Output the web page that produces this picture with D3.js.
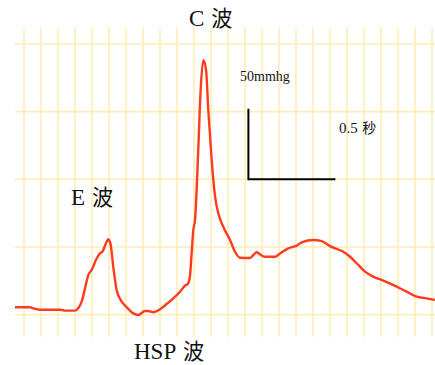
<!DOCTYPE html>
<html>
<head>
<meta charset="utf-8">
<script src="https://cdn.jsdelivr.net/npm/d3@7"></script>
<style>
  html, body { margin: 0; padding: 0; background: #fff; }
  svg { display: block; }
  .lbl { font-family: "Liberation Serif", "Times New Roman", serif; fill: #111; }
  .cjk { font-family: "Noto Sans CJK JP", sans-serif; }
</style>
</head>
<body>
<div id="chart"></div>
<script>
// pressure trace, time in seconds, pressure in mmHg
const timeValues = [
    -0.053, 0.035, 0.055, 0.094, 0.212, 0.241, 0.300, 0.319, 0.339, 0.359,
    0.378, 0.398, 0.428, 0.447, 0.461, 0.486, 0.496, 0.510, 0.525, 0.545,
    0.575, 0.604, 0.643, 0.672, 0.712, 0.731, 0.761, 0.800, 0.839, 0.878,
    0.918, 0.947, 0.966, 0.976, 0.986, 0.996, 1.006, 1.025, 1.039, 1.055,
    1.071, 1.084, 1.104, 1.124, 1.143, 1.172, 1.212, 1.241, 1.271, 1.329,
    1.349, 1.369, 1.388, 1.418, 1.476, 1.506, 1.555, 1.604, 1.634, 1.702,
    1.751, 1.800, 1.878, 1.918, 1.957, 2.006, 2.055, 2.114, 2.192, 2.251,
    2.310, 2.369, 2.418
];
const pressureValues = [
    5.5, 5.5, 4.7, 3.7, 3.7, 3.0, 3.0, 4.7, 9.6, 19.5,
    29.3, 33.0, 41.7, 45.3, 46.5, 53.9, 55.7, 51.5, 35.5, 18.2,
    9.6, 5.5, 1.0, -0.2, 2.7, 2.7, 1.8, 4.0, 7.9, 12.1,
    17.0, 21.4, 23.2, 28.1, 45.3, 62.6, 69.9, 121.6, 166.0, 188.1,
    180.7, 151.2, 114.3, 87.2, 74.9, 65.0, 55.2, 46.5, 42.1, 41.9,
    44.1, 46.1, 44.6, 42.8, 42.8, 45.3, 49.0, 51.0, 53.5, 55.2,
    54.4, 50.7, 46.5, 42.8, 38.0, 31.8, 28.1, 25.1, 20.7, 17.0,
    13.3, 12.1, 10.9
];

// grid (0.1 s by 50 mmHg)
const gridTimes = d3.range(0, 2.401, 0.1);
const gridPressures = [0, 50, 100, 150, 200];

// labels: latin part + kanji part
const waveLabels = [["C", "波"], ["E", "波"], ["HSP", "波"]];
const scaleLabels = [["50mmhg", ""], ["0.5", "秒"]];
const scaleBarPressure = 50;
const scaleBarTime = 0.5;

const width = 435;
const height = 365;

const x = d3.scaleLinear().domain([0, 2.4]).range([24, 432]);
const y = d3.scaleLinear().domain([0, 200]).range([314.7, 44]);

const svg = d3.select("#chart").append("svg")
    .attr("width", width)
    .attr("height", height);

// Grid
const grid = svg.append("g")
    .attr("stroke", "#ffecb0")
    .attr("stroke-width", 1.5);

grid.selectAll("line.v")
    .data(gridTimes)
    .join("line")
    .attr("class", "v")
    .attr("x1", d => x(d)).attr("x2", d => x(d))
    .attr("y1", y(212)).attr("y2", y(-16.2));

grid.selectAll("line.h")
    .data(gridPressures)
    .join("line")
    .attr("class", "h")
    .attr("x1", x(-0.053)).attr("x2", width)
    .attr("y1", d => y(d)).attr("y2", d => y(d));

// Trace
const points = timeValues.map((t, i) => [t, pressureValues[i]]);

const line = d3.line()
    .x(d => x(d[0]))
    .y(d => y(d[1]))
    .curve(d3.curveMonotoneX);

svg.append("path")
    .datum(points)
    .attr("fill", "none")
    .attr("stroke", "#ff3b1d")
    .attr("stroke-width", 2.4)
    .attr("stroke-linejoin", "round")
    .attr("d", line);

// Scale bar
const barT = 1.32, barP = 100;
svg.append("path")
    .attr("fill", "none")
    .attr("stroke", "#000")
    .attr("stroke-width", 2)
    .attr("d", `M ${x(barT)} ${y(barP + scaleBarPressure) - 3}
                L ${x(barT)} ${y(barP)}
                L ${x(barT + scaleBarTime) + 2} ${y(barP)}`);

function addLabel(parts, t, p, size) {
    const txt = svg.append("text")
        .attr("class", "lbl")
        .attr("x", x(t))
        .attr("y", y(p))
        .style("font-size", size + "px");
    txt.append("tspan").text(parts[0]);
    if (parts[1]) {
        txt.append("tspan").attr("class", "cjk")
            .attr("dx", size * 0.3)
            .style("font-size", (size * 0.92) + "px")
            .text(parts[1]);
    }
}

// Labels
addLabel(waveLabels[0], 0.971, 213.2, 23);
addLabel(waveLabels[1], 0.276, 81.0, 23);
addLabel(waveLabels[2], 0.647, -32.7, 23);
addLabel(scaleLabels[0], 1.271, 172.6, 14);
addLabel(scaleLabels[1], 1.853, 134.2, 15);
</script>
</body>
</html>
